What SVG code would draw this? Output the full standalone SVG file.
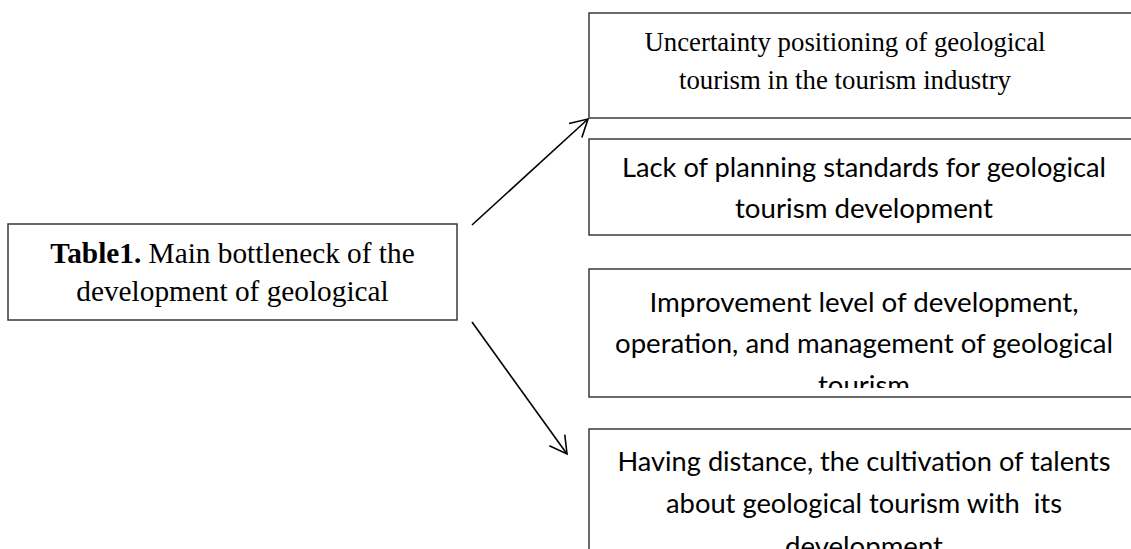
<svg xmlns="http://www.w3.org/2000/svg" width="1131" height="549" viewBox="0 0 1131 549">
  <style>
    .box { fill: #ffffff; stroke: #3a3a3a; stroke-width: 1.5; }
    .serif { font-family: "Liberation Serif", "Times New Roman", serif; font-size: 29.3px; fill: #000; text-anchor: middle; }
    .serif-s { font-family: "Liberation Serif", "Times New Roman", serif; font-size: 26.8px; fill: #000; text-anchor: middle; }
    .sans { font-family: Lato, "Open Sans", sans-serif; font-size: 26.5px; fill: #000; text-anchor: middle; white-space: pre; }
    .conn { stroke: #000; stroke-width: 1.6; fill: none; }
  </style>
  <defs>
    <marker id="arrow" markerUnits="userSpaceOnUse" viewBox="-20 -12 24 24" markerWidth="24" markerHeight="24" refX="0" refY="0" orient="auto" overflow="visible">
      <path d="M -17,-9.5 L 0,0 L -17,9.5" fill="none" stroke="#000" stroke-width="1.6" stroke-linejoin="miter"/>
    </marker>
    <clipPath id="clip3"><rect x="589" y="269" width="560" height="119"/></clipPath>
  </defs>
  <rect width="1131" height="549" fill="#ffffff"/>

  <g id="node-main">
    <rect class="box" x="8" y="224" width="449" height="96"/>
    <text class="serif" x="232.5" y="263"><tspan font-weight="bold">Table1.</tspan> Main bottleneck of the</text>
    <text class="serif" x="232.5" y="300.5">development of geological</text>
  </g>

  <g id="node-uncertainty">
    <rect class="box" x="589" y="13" width="550" height="105"/>
    <text class="serif-s" x="845" y="51">Uncertainty positioning of geological</text>
    <text class="serif-s" x="845" y="88.5">tourism in the tourism industry</text>
  </g>

  <g id="node-planning">
    <rect class="box" x="589" y="139" width="550" height="96"/>
    <text class="sans" x="864" y="177" textLength="484" lengthAdjust="spacingAndGlyphs">Lack of planning standards for geological</text>
    <text class="sans" x="864" y="218" textLength="258" lengthAdjust="spacingAndGlyphs">tourism development</text>
  </g>

  <g id="node-improvement">
    <rect class="box" x="589" y="269" width="550" height="128"/>
    <g clip-path="url(#clip3)">
      <text class="sans" x="864" y="312" textLength="429" lengthAdjust="spacingAndGlyphs">Improvement level of development,</text>
      <text class="sans" x="864" y="353" textLength="498" lengthAdjust="spacingAndGlyphs">operation, and management of geological</text>
      <text class="sans" x="864" y="395" textLength="92" lengthAdjust="spacingAndGlyphs">tourism</text>
    </g>
  </g>

  <g id="node-talents">
    <rect class="box" x="589" y="429" width="550" height="140"/>
    <text class="sans" x="864" y="471" textLength="493" lengthAdjust="spacingAndGlyphs">Having distance, the cultivation of talents</text>
    <text class="sans" x="864" y="513" textLength="396" lengthAdjust="spacingAndGlyphs">about geological tourism with  its</text>
    <text class="sans" x="864" y="556" textLength="158" lengthAdjust="spacingAndGlyphs">development</text>
  </g>

  <g id="connectors">
    <line class="conn" x1="472" y1="225" x2="588" y2="119" marker-end="url(#arrow)"/>
    <line class="conn" x1="472" y1="322" x2="567" y2="454" marker-end="url(#arrow)"/>
  </g>
</svg>
